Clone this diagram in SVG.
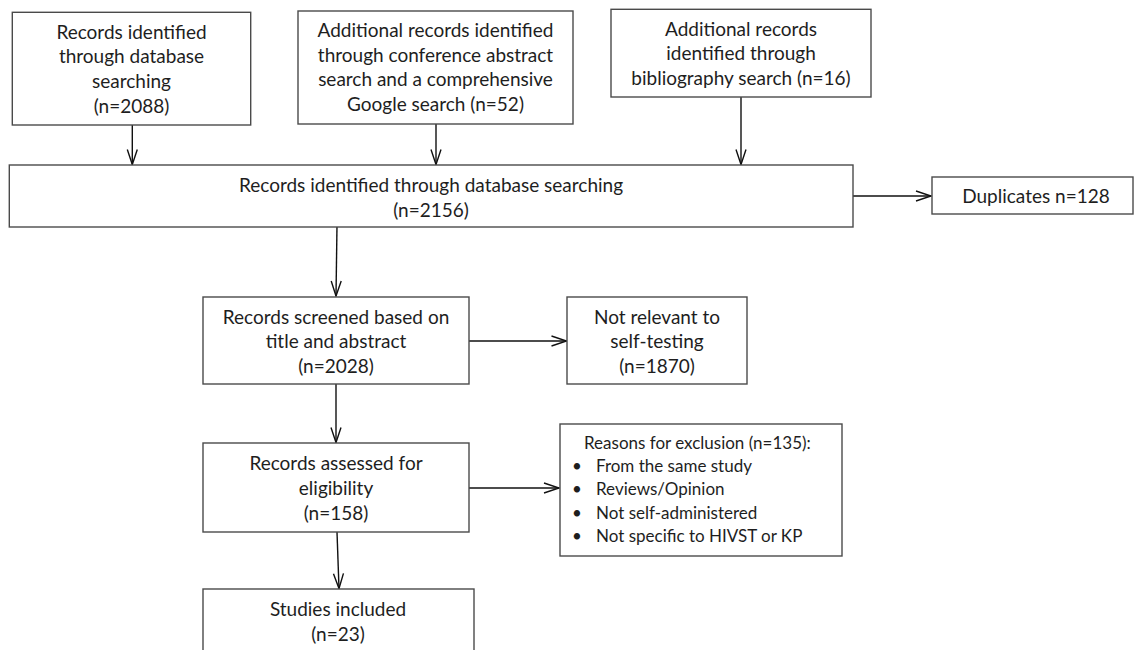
<svg xmlns="http://www.w3.org/2000/svg" width="1135" height="650" viewBox="0 0 1135 650">
<style>
.box{fill:#fff;stroke:#4a4a4a;stroke-width:1.4}
.t{font-family:Lato,"Open Sans","Liberation Sans",sans-serif;font-size:19px;fill:#1e1e1e;text-anchor:middle}
.s{font-family:Lato,"Open Sans","Liberation Sans",sans-serif;font-size:17px;fill:#1e1e1e}
.c{fill:none;stroke:#111;stroke-width:1.4}
</style>
<defs>
<marker id="ah" markerUnits="userSpaceOnUse" markerWidth="18" markerHeight="14" refX="15" refY="5" orient="auto" overflow="visible">
<path d="M0,0 L15,5 L0,10" fill="none" stroke="#111" stroke-width="1.4"/>
</marker>
</defs>
<rect width="1135" height="650" fill="#fff"/>
<g id="connectors">
<line class="c" x1="132.3" y1="125" x2="132.3" y2="164.5" marker-end="url(#ah)"/>
<line class="c" x1="436" y1="124" x2="436" y2="164.5" marker-end="url(#ah)"/>
<line class="c" x1="741" y1="97" x2="741" y2="164.5" marker-end="url(#ah)"/>
<line class="c" x1="853" y1="196" x2="931" y2="196" marker-end="url(#ah)"/>
<line class="c" x1="337" y1="225" x2="336" y2="296" marker-end="url(#ah)"/>
<line class="c" x1="469" y1="341" x2="566.5" y2="341" marker-end="url(#ah)"/>
<line class="c" x1="336" y1="384" x2="336" y2="442.5" marker-end="url(#ah)"/>
<line class="c" x1="469" y1="488" x2="559" y2="488" marker-end="url(#ah)"/>
<line class="c" x1="337" y1="532" x2="339" y2="588.5" marker-end="url(#ah)"/>
</g>
<g id="n1">
<rect class="box" x="12.3" y="12.3" width="238.4" height="112.7"/>
<text class="t" x="131.5" y="38.5">Records identified</text>
<text class="t" x="131.5" y="63">through database</text>
<text class="t" x="131.5" y="88">searching</text>
<text class="t" x="131.5" y="112.5">(n=2088)</text>
</g>
<g id="n2">
<rect class="box" x="298" y="11" width="275" height="113"/>
<text class="t" x="435.5" y="37">Additional records identified</text>
<text class="t" x="435.5" y="61.5">through conference abstract</text>
<text class="t" x="435.5" y="86">search and a comprehensive</text>
<text class="t" x="435.5" y="110.5">Google search (n=52)</text>
</g>
<g id="n3">
<rect class="box" x="611" y="9.3" width="260" height="87.7"/>
<text class="t" x="741" y="35.5">Additional records</text>
<text class="t" x="741" y="60">identified through</text>
<text class="t" x="741" y="85">bibliography search (n=16)</text>
</g>
<g id="n4">
<rect class="box" x="9.3" y="165" width="843.7" height="62"/>
<text class="t" x="431" y="191.5">Records identified through database searching</text>
<text class="t" x="431" y="216.5">(n=2156)</text>
</g>
<g id="n5">
<rect class="box" x="932" y="177" width="201" height="37"/>
<text class="t" x="1036" y="203">Duplicates n=128</text>
</g>
<g id="n6">
<rect class="box" x="203" y="297" width="266" height="87"/>
<text class="t" x="336" y="323.5">Records screened based on</text>
<text class="t" x="336" y="347.5">title and abstract</text>
<text class="t" x="336" y="372.5">(n=2028)</text>
</g>
<g id="n7">
<rect class="box" x="567" y="297" width="180" height="87"/>
<text class="t" x="657" y="323.5">Not relevant to</text>
<text class="t" x="657" y="347.5">self-testing</text>
<text class="t" x="657" y="372.5">(n=1870)</text>
</g>
<g id="n8">
<rect class="box" x="203" y="443" width="266" height="89"/>
<text class="t" x="336" y="469.5">Records assessed for</text>
<text class="t" x="336" y="495">eligibility</text>
<text class="t" x="336" y="520">(n=158)</text>
</g>
<g id="n9">
<rect class="box" x="560" y="424" width="282" height="132"/>
<text class="s" x="584" y="448.5">Reasons for exclusion (n=135):</text>
<text class="s" x="572" y="472">•</text>
<text class="s" x="596" y="472">From the same study</text>
<text class="s" x="572" y="495">•</text>
<text class="s" x="596" y="495">Reviews/Opinion</text>
<text class="s" x="572" y="519">•</text>
<text class="s" x="596" y="519">Not self-administered</text>
<text class="s" x="572" y="542">•</text>
<text class="s" x="596" y="542">Not specific to HIVST or KP</text>
</g>
<g id="n10">
<rect class="box" x="203" y="589" width="271" height="65"/>
<text class="t" x="338" y="615.5">Studies included</text>
<text class="t" x="338" y="641">(n=23)</text>
</g>
</svg>
